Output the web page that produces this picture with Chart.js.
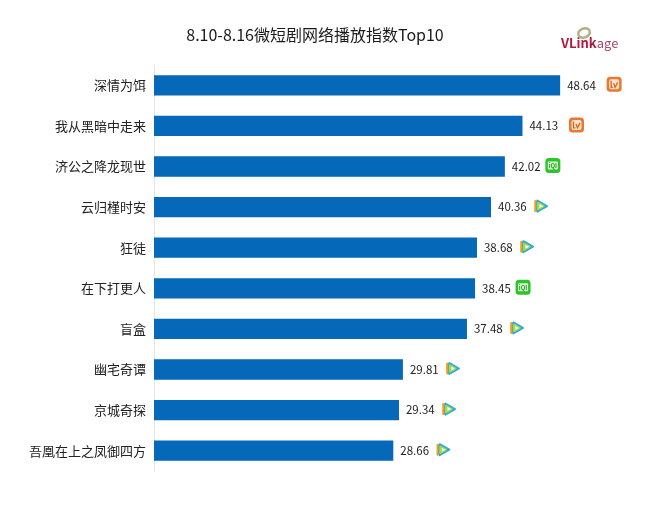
<!DOCTYPE html>
<html>
<head>
<meta charset="utf-8">
<style>
  body { margin: 0; background: #fff; }
</style>
<script src="https://cdn.jsdelivr.net/npm/chart.js@4/dist/chart.umd.js"></script>
</head>
<body>
<canvas id="chart" width="660" height="510"></canvas>
<script>
const titleText = "8.10-8.16微短剧网络播放指数Top10";
const categories = ["深情为饵", "我从黑暗中走来", "济公之降龙现世", "云归槿时安", "狂徒", "在下打更人", "盲盒", "幽宅奇谭", "京城奇探", "吾凰在上之凤御四方"];
const values = [48.64, 44.13, 42.02, 40.36, 38.68, 38.45, 37.48, 29.81, 29.34, 28.66];
const platforms = ["mango", "mango", "iqiyi", "tencent", "tencent", "iqiyi", "tencent", "tencent", "tencent", "tencent"];

const fontFamily = '"Noto Sans CJK SC", "Noto Sans", sans-serif';

function roundBox(ctx, x, y, w, h, r, fill) {
  ctx.fillStyle = fill;
  ctx.beginPath();
  ctx.roundRect(x, y, w, h, r);
  ctx.fill();
}

function drawMango(ctx, cx, cy) {
  roundBox(ctx, cx - 7.5, cy - 7.5, 15, 15, 3.5, "#e8792f");
  roundBox(ctx, cx - 5, cy - 5, 10, 10, 2, "#fbe3cf");
  ctx.strokeStyle = "#d9641c";
  ctx.lineWidth = 1.3;
  ctx.beginPath();
  ctx.moveTo(cx - 3, cy - 3.5);
  ctx.lineTo(cx - 3, cy + 3);
  ctx.lineTo(cx - 1, cy + 3);
  ctx.moveTo(cx - 0.5, cy - 1);
  ctx.lineTo(cx + 1, cy + 3);
  ctx.lineTo(cx + 3.5, cy - 2);
  ctx.stroke();
}

function drawIqiyi(ctx, cx, cy) {
  roundBox(ctx, cx - 7.5, cy - 7.5, 15, 15, 3.5, "#2fc42a");
  roundBox(ctx, cx - 5, cy - 4, 10, 8, 1, "#d9f6d4");
  ctx.fillStyle = "#1f9e1c";
  ctx.font = "bold 6px " + fontFamily;
  ctx.textAlign = "center";
  ctx.textBaseline = "middle";
  ctx.fillText("iQI", cx, cy + 0.5);
}

function triangle(ctx, cx, cy, size, fill) {
  ctx.fillStyle = fill;
  ctx.strokeStyle = fill;
  ctx.lineWidth = 2;
  ctx.lineJoin = "round";
  ctx.beginPath();
  ctx.moveTo(cx - size * 0.75, cy - size);
  ctx.lineTo(cx + size, cy);
  ctx.lineTo(cx - size * 0.75, cy + size);
  ctx.closePath();
  ctx.fill();
  ctx.stroke();
}

function drawTencent(ctx, cx, cy) {
  triangle(ctx, cx - 2, cy, 5, "#f39c1f");
  triangle(ctx, cx + 0.5, cy, 5.5, "#2fa8e0");
  triangle(ctx, cx - 0.5, cy, 3.2, "#9fdc4a");
  ctx.fillStyle = "#ffffff";
  ctx.beginPath();
  ctx.moveTo(cx - 1.5, cy - 2);
  ctx.lineTo(cx + 2, cy);
  ctx.lineTo(cx - 1.5, cy + 2);
  ctx.closePath();
  ctx.fill();
}

const iconDraw = { mango: drawMango, iqiyi: drawIqiyi, tencent: drawTencent };
const iconOffset = { mango: 54, iqiyi: 48, tencent: 50 };

// value labels and platform icons at the bar ends, title and logo on top
const decorations = {
  id: "decorations",
  afterDatasetsDraw(chart) {
    const ctx = chart.ctx;
    const meta = chart.getDatasetMeta(0);
    ctx.save();
    meta.data.forEach((bar, i) => {
      ctx.fillStyle = "#222222";
      ctx.font = "11.5px " + fontFamily;
      ctx.textAlign = "left";
      ctx.textBaseline = "middle";
      ctx.fillText(values[i].toFixed(2), bar.x + 7, bar.y);
      iconDraw[platforms[i]](ctx, bar.x + iconOffset[platforms[i]], bar.y - 1);
    });

    ctx.fillStyle = "#1a1a1a";
    ctx.font = "16px " + fontFamily;
    ctx.textAlign = "center";
    ctx.fillText(titleText, 315, 35);

    // VLinkage logo
    ctx.textAlign = "left";
    ctx.fillStyle = "#b5173a";
    ctx.font = "bold 13px " + fontFamily;
    ctx.fillText("VLink", 561, 43);
    const w = ctx.measureText("VLink").width;
    ctx.fillStyle = "#a8486a";
    ctx.font = "13px " + fontFamily;
    ctx.fillText("age", 561 + w, 43);
    ctx.strokeStyle = "#b5ad84";
    ctx.lineWidth = 2.5;
    ctx.beginPath();
    ctx.ellipse(584, 33, 6, 4.5, -0.4, 0, Math.PI * 2);
    ctx.stroke();
    ctx.restore();
  },
};

new Chart(document.getElementById("chart"), {
  type: "bar",
  data: {
    labels: categories,
    datasets: [
      {
        data: values,
        backgroundColor: "#0568b8",
        barPercentage: 0.5,
        categoryPercentage: 1,
      },
    ],
  },
  options: {
    indexAxis: "y",
    responsive: false,
    animation: false,
    layout: { padding: { top: 65, bottom: 39, right: 88.5, left: 0 } },
    scales: {
      x: { min: 0, max: 50, display: false },
      y: {
        afterFit(scale) {
          scale.width = 154;
        },
        grid: { display: false, drawTicks: false },
        border: { color: "#e3e3e3" },
        ticks: {
          color: "#222222",
          padding: 8,
          font: { family: fontFamily, size: 13 },
        },
      },
    },
    plugins: {
      legend: { display: false },
      tooltip: { enabled: false },
    },
  },
  plugins: [decorations],
});
</script>
</body>
</html>
